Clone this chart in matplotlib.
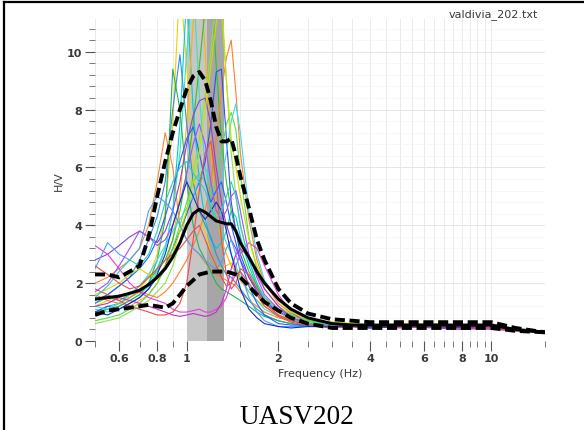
import matplotlib
matplotlib.use("Agg")
import matplotlib.pyplot as plt
from matplotlib.lines import Line2D
from matplotlib.ticker import FixedLocator, NullFormatter, FixedFormatter

# Frequency samples (Hz)
freq = [0.5, 0.55, 0.6, 0.65, 0.7, 0.75, 0.8, 0.85, 0.9, 0.95, 1.0, 1.05, 1.1, 1.15,
        1.2, 1.25, 1.3, 1.35, 1.4, 1.45, 1.5, 1.6, 1.7, 1.8, 2.0, 2.2, 2.5, 3.0, 3.5,
        4.0, 5.0, 6.5, 8.0, 10.0, 12.0, 15.0]

# H/V ratio of individual windows
w01 = [1.2, 1.4, 1.6, 1.5, 1.8, 2.2, 3.0, 4.5, 7.5, 12.5, 9.5, 6.0, 4.5, 3.8, 3.0, 2.6, 2.5, 2.6, 2.7, 2.5, 2.2, 1.9, 1.6, 1.3, 1.0, 0.8, 0.7, 0.65, 0.6, 0.55, 0.6, 0.6, 0.55, 0.6, 0.4, 0.3]
w02 = [1.0, 1.2, 1.3, 1.5, 1.7, 2.0, 2.5, 3.2, 4.5, 7.5, 12.0, 8.0, 5.5, 4.2, 3.5, 3.2, 3.4, 3.8, 4.5, 4.3, 3.6, 2.6, 1.9, 1.4, 1.0, 0.8, 0.65, 0.6, 0.55, 0.5, 0.55, 0.5, 0.55, 0.55, 0.4, 0.3]
w03 = [0.9, 1.1, 1.3, 1.2, 1.4, 1.6, 2.0, 2.6, 3.5, 5.0, 7.5, 11.0, 13.0, 10.0, 6.5, 4.5, 3.5, 3.0, 2.6, 2.4, 2.1, 1.7, 1.4, 1.2, 0.9, 0.75, 0.6, 0.55, 0.55, 0.5, 0.5, 0.55, 0.5, 0.55, 0.4, 0.3]
w04 = [1.3, 1.5, 1.4, 1.6, 1.9, 2.2, 2.4, 2.8, 3.5, 4.5, 5.8, 7.5, 9.5, 11.5, 12.5, 9.5, 7.0, 5.5, 4.5, 3.8, 3.2, 2.4, 1.9, 1.5, 1.1, 0.9, 0.7, 0.6, 0.6, 0.55, 0.55, 0.55, 0.5, 0.55, 0.4, 0.3]
w05 = [0.6, 0.7, 0.8, 1.0, 1.2, 1.4, 1.7, 2.0, 2.6, 3.4, 4.5, 5.8, 7.0, 8.5, 10.0, 12.0, 11.5, 9.0, 6.5, 5.0, 4.0, 2.8, 2.0, 1.5, 1.1, 0.85, 0.65, 0.55, 0.6, 0.55, 0.5, 0.5, 0.55, 0.5, 0.4, 0.3]
w06 = [1.1, 1.0, 1.2, 1.4, 1.6, 1.9, 2.4, 3.2, 4.5, 6.5, 10.0, 12.5, 8.5, 6.0, 4.8, 4.2, 3.8, 3.4, 3.0, 2.6, 2.2, 1.7, 1.4, 1.1, 0.85, 0.7, 0.6, 0.55, 0.5, 0.5, 0.55, 0.5, 0.5, 0.5, 0.4, 0.3]
w07 = [1.6, 1.4, 1.3, 1.5, 1.7, 1.6, 1.5, 1.7, 2.0, 2.4, 2.8, 3.3, 3.8, 4.5, 5.5, 7.0, 8.6, 9.8, 10.4, 8.6, 6.5, 4.2, 2.8, 2.0, 1.3, 0.95, 0.75, 0.6, 0.55, 0.55, 0.5, 0.55, 0.5, 0.5, 0.4, 0.3]
w08 = [2.0, 2.2, 2.5, 2.8, 3.2, 4.0, 5.5, 7.2, 6.0, 4.0, 3.5, 3.2, 3.0, 2.7, 2.5, 2.3, 2.2, 2.1, 2.0, 1.9, 1.7, 1.4, 1.2, 1.0, 0.8, 0.7, 0.6, 0.55, 0.55, 0.5, 0.55, 0.5, 0.55, 0.5, 0.4, 0.3]
w09 = [1.3, 1.6, 1.9, 2.2, 2.8, 3.5, 4.3, 5.5, 8.0, 9.9, 7.5, 5.5, 4.5, 4.0, 3.6, 3.0, 2.6, 2.3, 2.2, 2.0, 1.8, 1.4, 1.1, 0.9, 0.7, 0.6, 0.55, 0.5, 0.55, 0.5, 0.5, 0.5, 0.5, 0.5, 0.4, 0.3]
w10 = [1.0, 1.1, 1.2, 1.4, 1.6, 2.0, 2.8, 4.2, 9.4, 8.0, 5.5, 4.0, 3.2, 2.8, 2.4, 2.0, 1.8, 1.7, 1.6, 1.5, 1.4, 1.2, 1.0, 0.85, 0.7, 0.6, 0.5, 0.5, 0.55, 0.5, 0.5, 0.55, 0.5, 0.5, 0.4, 0.3]
w11 = [1.0, 1.2, 1.1, 1.3, 1.5, 1.8, 2.2, 2.6, 3.2, 3.8, 4.4, 5.0, 5.5, 6.2, 7.5, 9.3, 9.4, 7.0, 4.8, 3.8, 3.0, 2.2, 1.7, 1.3, 1.0, 0.8, 0.6, 0.55, 0.5, 0.5, 0.5, 0.5, 0.5, 0.5, 0.4, 0.3]
w12 = [1.2, 1.1, 1.3, 1.6, 1.9, 2.3, 2.8, 3.3, 3.8, 4.2, 4.6, 5.0, 5.6, 6.0, 5.5, 5.0, 5.5, 6.5, 7.6, 8.2, 7.2, 4.5, 3.0, 2.1, 1.4, 1.0, 0.75, 0.6, 0.6, 0.55, 0.5, 0.55, 0.55, 0.5, 0.4, 0.3]
w13 = [0.7, 0.8, 0.9, 1.1, 1.3, 1.6, 2.0, 2.5, 3.2, 4.0, 4.8, 5.5, 5.8, 5.5, 5.0, 5.5, 6.5, 7.5, 7.9, 7.3, 5.8, 3.6, 2.5, 1.8, 1.2, 0.9, 0.7, 0.55, 0.55, 0.5, 0.5, 0.5, 0.55, 0.5, 0.4, 0.3]
w14 = [2.8, 3.0, 3.3, 3.6, 3.8, 3.6, 3.4, 3.8, 4.5, 5.5, 6.8, 7.8, 8.3, 8.4, 7.5, 6.0, 4.8, 4.0, 3.5, 3.2, 2.8, 2.2, 1.8, 1.4, 1.0, 0.8, 0.6, 0.55, 0.5, 0.5, 0.5, 0.5, 0.5, 0.5, 0.4, 0.3]
w15 = [1.4, 1.6, 1.9, 2.2, 2.5, 2.9, 3.5, 4.3, 5.2, 6.2, 7.0, 7.4, 6.5, 5.5, 4.8, 5.2, 5.5, 4.8, 4.0, 3.4, 2.8, 1.9, 1.3, 0.9, 0.6, 0.55, 0.55, 0.5, 0.55, 0.5, 0.5, 0.5, 0.5, 0.5, 0.4, 0.3]
w16 = [1.8, 1.6, 1.4, 1.2, 1.1, 1.0, 0.9, 0.9, 1.0, 1.3, 2.0, 3.5, 5.2, 6.5, 6.9, 5.5, 3.5, 2.3, 1.8, 2.0, 2.5, 2.3, 1.8, 1.3, 0.9, 0.7, 0.55, 0.5, 0.5, 0.5, 0.5, 0.5, 0.5, 0.5, 0.4, 0.3]
w17 = [3.3, 3.0, 2.5, 2.0, 1.7, 1.5, 1.4, 1.3, 1.1, 1.0, 1.0, 1.05, 1.1, 1.0, 1.0, 1.1, 1.2, 1.5, 2.0, 2.6, 3.0, 3.4, 3.2, 2.6, 1.6, 1.0, 0.6, 0.45, 0.5, 0.5, 0.45, 0.5, 0.45, 0.4, 0.35, 0.3]
w18 = [1.2, 1.3, 1.5, 1.4, 1.3, 1.2, 1.1, 1.0, 0.9, 0.85, 0.9, 0.95, 0.9, 0.85, 0.9, 1.0, 1.3, 1.8, 2.5, 3.0, 3.2, 2.9, 2.3, 1.8, 1.2, 0.8, 0.55, 0.45, 0.5, 0.45, 0.5, 0.45, 0.4, 0.45, 0.35, 0.3]
w19 = [2.5, 3.4, 3.0, 2.8, 3.2, 4.5, 5.0, 4.8, 4.5, 4.0, 3.5, 3.2, 3.0, 2.8, 2.6, 2.5, 2.7, 3.2, 3.5, 3.0, 2.4, 1.5, 1.0, 0.7, 0.5, 0.5, 0.5, 0.5, 0.5, 0.5, 0.5, 0.5, 0.5, 0.5, 0.4, 0.3]
w20 = [1.7, 2.0, 2.6, 3.2, 3.8, 3.6, 3.3, 3.5, 4.0, 4.8, 5.8, 6.8, 7.5, 6.8, 5.5, 4.5, 4.2, 4.5, 5.0, 5.2, 4.5, 3.0, 2.2, 1.6, 1.1, 0.8, 0.6, 0.55, 0.5, 0.5, 0.5, 0.55, 0.5, 0.5, 0.4, 0.3]
w21 = [1.6, 1.8, 2.0, 2.3, 2.5, 2.3, 2.2, 2.6, 3.0, 3.8, 4.5, 5.5, 6.5, 8.0, 9.5, 11.0, 12.0, 9.0, 7.0, 6.0, 5.0, 3.5, 2.6, 2.0, 1.4, 1.0, 0.75, 0.65, 0.6, 0.55, 0.55, 0.6, 0.55, 0.55, 0.4, 0.3]
w22 = [1.0, 0.9, 1.1, 1.3, 1.5, 1.8, 2.3, 3.0, 4.0, 4.8, 5.5, 5.0, 4.5, 4.2, 4.5, 4.8, 4.5, 3.8, 3.0, 2.4, 1.8, 1.1, 0.8, 0.6, 0.5, 0.45, 0.5, 0.5, 0.5, 0.45, 0.5, 0.5, 0.45, 0.5, 0.4, 0.3]
w23 = [2.6, 2.3, 2.0, 1.8, 1.9, 2.2, 2.5, 2.8, 3.0, 3.2, 3.5, 3.8, 4.0, 3.5, 3.0, 2.6, 2.2, 1.9, 2.0, 2.3, 2.4, 2.0, 1.6, 1.2, 0.85, 0.65, 0.55, 0.45, 0.5, 0.5, 0.5, 0.5, 0.5, 0.45, 0.35, 0.3]
w24 = [1.5, 1.9, 2.4, 2.8, 2.6, 3.0, 3.8, 4.8, 5.5, 6.0, 6.2, 5.8, 5.5, 5.2, 4.6, 4.2, 4.5, 5.0, 5.5, 5.0, 4.0, 2.8, 2.0, 1.5, 1.0, 0.75, 0.6, 0.55, 0.55, 0.5, 0.55, 0.5, 0.55, 0.5, 0.4, 0.3]

windows = [w01, w02, w03, w04, w05, w06, w07, w08, w09, w10, w11, w12,
           w13, w14, w15, w16, w17, w18, w19, w20, w21, w22, w23, w24]
window_colors = ["#f2d000", "#00c8e0", "#ffb000", "#30c030", "#8fe050", "#40e0b0",
                 "#ff7f27", "#f08a3a", "#3090e0", "#2ab05a", "#3050e8", "#40d8f0",
                 "#50e050", "#8a40e0", "#2060ff", "#f04848", "#e040e0", "#c030c0",
                 "#50a0f0", "#a050ff", "#c8e000", "#1030c0", "#e05050", "#30c8c8"]

# Average curve and +/- standard deviation curves
hv_mean = [1.45, 1.5, 1.55, 1.65, 1.75, 1.95, 2.2, 2.5, 2.9, 3.4, 4.0, 4.4, 4.55, 4.45, 4.3, 4.15,
           4.1, 4.05, 4.05, 3.8, 3.4, 2.9, 2.4, 2.0, 1.45, 1.1, 0.8, 0.6, 0.55, 0.55, 0.55, 0.55,
           0.55, 0.55, 0.4, 0.3]
hv_upper = [2.3, 2.3, 2.2, 2.4, 2.6, 3.6, 5.0, 6.2, 7.2, 8.0, 8.7, 9.15, 9.3, 9.0, 8.3, 7.4,
            6.9, 6.9, 7.0, 6.4, 5.7, 4.6, 3.5, 2.8, 1.8, 1.3, 0.95, 0.75, 0.7, 0.65, 0.65, 0.65,
            0.65, 0.65, 0.45, 0.3]
hv_lower = [0.9, 1.05, 1.1, 1.15, 1.2, 1.25, 1.2, 1.15, 1.3, 1.6, 1.9, 2.1, 2.3, 2.35, 2.4, 2.4,
            2.4, 2.4, 2.35, 2.3, 2.2, 1.9, 1.6, 1.35, 1.05, 0.8, 0.6, 0.45, 0.45, 0.45, 0.45, 0.45,
            0.45, 0.45, 0.35, 0.3]

# Peak frequency band (f0 - std, f0, f0 + std)
f0_band = [1.0, 1.17, 1.33]

xticks_major = [0.6, 0.8, 1, 2, 4, 6, 8, 10]
xtick_labels = ["0.6", "0.8", "1", "2", "4", "6", "8", "10"]
xticks_minor = [0.5, 0.7, 0.9, 1.5, 2.5, 3, 3.5, 4.5, 5, 5.5, 6.5, 7, 7.5, 8.5, 9, 9.5, 15]
yticks_major = [0, 2, 4, 6, 8, 10]

fig = plt.figure(figsize=(5.84, 4.31), dpi=100)
ax = fig.add_axes([95 / 584, 89 / 431, (545 - 95) / 584, (342 - 20) / 431])

ax.set_xscale("log")
ax.set_xlim(0.5, 15)
ax.set_ylim(0, 11.13)

# grid
for x in xticks_major + xticks_minor:
    ax.axvline(x, color="#ebebeb", lw=0.7, zorder=0)
for y in yticks_major[1:]:
    ax.axhline(y, color="#e6e6e6", lw=0.7, zorder=0)
for k in range(1, 28):
    y = 0.4 * k
    if abs(y / 2 - round(y / 2)) > 1e-6:
        ax.axhline(y, color="#f4f4f4", lw=0.5, zorder=0)

ax.axvspan(f0_band[0], f0_band[1], color="#c6c6c6", lw=0, zorder=1)
ax.axvspan(f0_band[1], f0_band[2], color="#a6a6a6", lw=0, zorder=1)

for vals, col in zip(windows, window_colors):
    ax.plot(freq, vals, color=col, lw=0.8, zorder=2)

ax.plot(freq, hv_upper, color="black", lw=2.8, ls=(0, (2.6, 1.2)), zorder=5)
ax.plot(freq, hv_lower, color="black", lw=2.8, ls=(0, (2.6, 1.2)), zorder=5)
ax.plot(freq, hv_mean, color="black", lw=2.2, zorder=6)

for s in ax.spines.values():
    s.set_visible(False)

ax.xaxis.set_major_locator(FixedLocator(xticks_major))
ax.xaxis.set_major_formatter(FixedFormatter(xtick_labels))
ax.xaxis.set_minor_locator(FixedLocator(xticks_minor))
ax.xaxis.set_minor_formatter(NullFormatter())
ax.set_yticks(yticks_major)
ax.set_yticks([0.4 * k for k in range(1, 28) if k % 5 != 0], minor=True)

ax.tick_params(axis="both", which="major", length=7, width=0.8, color="#555555",
               labelsize=8, labelcolor="#3a3a3a", direction="out", pad=2)
ax.tick_params(axis="both", which="minor", length=4, width=0.7, color="#777777",
               direction="out")
for lab in ax.get_xticklabels() + ax.get_yticklabels():
    lab.set_fontweight("bold")

ax.set_xlabel("Frequency (Hz)", fontsize=8, color="#3a3a3a", labelpad=3)
ax.set_ylabel("H/V", fontsize=8, color="#3a3a3a", labelpad=2)
fig.text(538 / 584, 1 - 15 / 431, "valdivia_202.txt", ha="right", va="center",
         fontsize=8, color="#3a3a3a")

fig.text(297 / 584, 1 - 424 / 431, "UASV202", ha="center", va="baseline",
         fontsize=19.5, family="Liberation Serif", color="black")

# cell frame
fig.add_artist(Line2D([3.5 / 584, 3.5 / 584], [0, 1 - 3 / 431], color="black", lw=1.6,
                      transform=fig.transFigure))
fig.add_artist(Line2D([3.5 / 584, 1], [1 - 3 / 431, 1 - 3 / 431], color="black", lw=1.6,
                      transform=fig.transFigure))

fig.savefig("out.png", dpi=100)
